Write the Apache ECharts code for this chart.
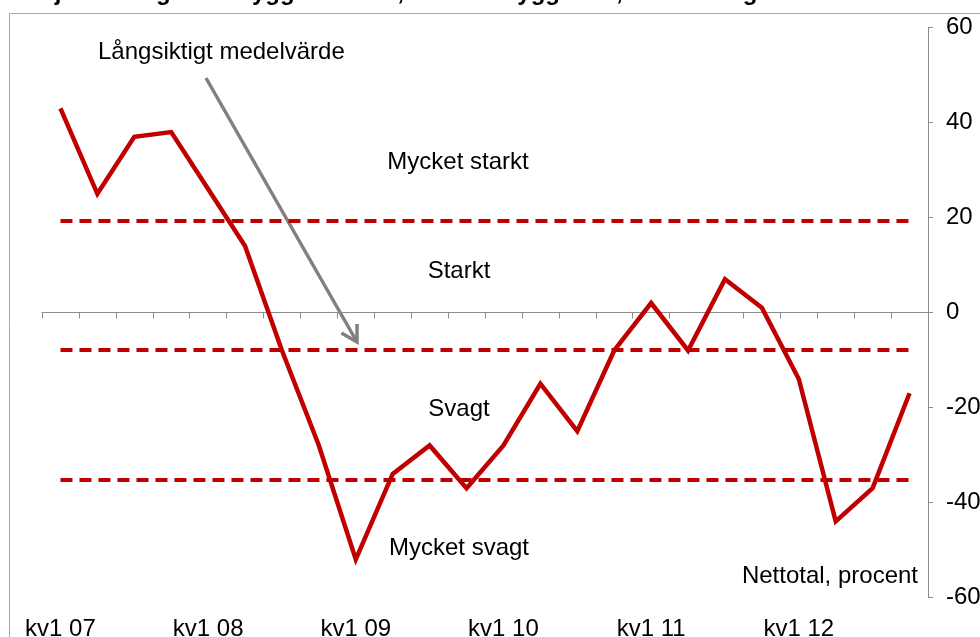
<!DOCTYPE html>
<html>
<head>
<meta charset="utf-8">
<script src="https://cdn.jsdelivr.net/npm/echarts@6/dist/echarts.min.js"></script>
<style>
html,body{margin:0;padding:0;background:#fff;}
#chart{width:980px;height:637px;}
</style>
</head>
<body>
<div id="chart"></div>
<script>
// ---- data ----
const categories = [
  'kv1 07','kv2 07','kv3 07','kv4 07',
  'kv1 08','kv2 08','kv3 08','kv4 08',
  'kv1 09','kv2 09','kv3 09','kv4 09',
  'kv1 10','kv2 10','kv3 10','kv4 10',
  'kv1 11','kv2 11','kv3 11','kv4 11',
  'kv1 12','kv2 12','kv3 12','kv4 12'
];
const nettotal = [43, 25, 37, 38, 26, 14, -8, -28, -52, -34, -28, -37,
                  -28, -15, -25, -8, 2, -8, 7, 1, -14, -44, -37, -17];
const thresholds = [19.4, -7.9, -35.2];
const yTicks = { min: -60, max: 60, interval: 20 };
const zoneLabels = ['Mycket starkt', 'Starkt', 'Svagt', 'Mycket svagt'];
const titleText = 'Konjunkturläget för byggindustrin, bostadsbyggande, nettotal läge';
const noteText = 'Långsiktigt medelvärde';
const unitText = 'Nettotal, procent';

const FONT = '"Liberation Sans", Arial, sans-serif';
const RED = '#c00000';
const FS = 24;

const chart = echarts.init(document.getElementById('chart'));

// arrow geometry (annotation)
const aStart = [206, 78], aEnd = [357, 342];
function arrowHead(s, e, len, ang) {
  const dx = s[0] - e[0], dy = s[1] - e[1];
  const d = Math.hypot(dx, dy), ux = dx / d, uy = dy / d;
  const c = Math.cos(ang), sn = Math.sin(ang);
  const a1 = [e[0] + len * (ux * c - uy * sn), e[1] + len * (ux * sn + uy * c)];
  const a2 = [e[0] + len * (ux * c + uy * sn), e[1] + len * (-ux * sn + uy * c)];
  return [a1, e, a2];
}

const zonePos = [[458, 162], [459, 271], [459, 409], [459, 548]];

const graphics = [
  { type: 'rect', z: -1, silent: true,
    shape: { x: 9.5, y: 13.5, width: 1000, height: 700 },
    style: { fill: 'none', stroke: '#a6a6a6', lineWidth: 1 } },
  { type: 'text', x: 8, y: 5, silent: true,
    style: { text: titleText, font: 'bold 24px ' + FONT, fill: '#000', align: 'left', verticalAlign: 'bottom' } },
  { type: 'text', x: 98, y: 52, silent: true,
    style: { text: noteText, font: FS + 'px ' + FONT, fill: '#000', align: 'left', verticalAlign: 'middle' } },
  { type: 'text', x: 918, y: 576, silent: true,
    style: { text: unitText, font: FS + 'px ' + FONT, fill: '#000', align: 'right', verticalAlign: 'middle' } },
  { type: 'line', silent: true,
    shape: { x1: aStart[0], y1: aStart[1], x2: aEnd[0], y2: aEnd[1] },
    style: { stroke: '#808080', lineWidth: 3.5 } },
  { type: 'polyline', silent: true,
    shape: { points: arrowHead(aStart, aEnd, 18, Math.PI / 6) },
    style: { stroke: '#808080', lineWidth: 3.5, fill: 'none' } }
];
zoneLabels.forEach((t, i) => {
  graphics.push({ type: 'text', x: zonePos[i][0], y: zonePos[i][1], silent: true,
    style: { text: t, font: FS + 'px ' + FONT, fill: '#000', align: 'center', verticalAlign: 'middle' } });
});

const option = {
  animation: false,
  backgroundColor: '#fff',
  grid: { left: 42, right: 52, top: 27.6, bottom: 39.6, containLabel: false, outerBoundsMode: 'none' },
  xAxis: [
    { type: 'category', data: categories, boundaryGap: true, position: 'bottom',
      axisLine: { show: false, onZero: false }, axisTick: { show: false },
      axisLabel: { interval: 3, fontSize: FS, fontFamily: FONT, color: '#000', margin: 20 },
      splitLine: { show: false } },
    { type: 'category', data: categories, boundaryGap: true, position: 'bottom',
      axisLine: { show: true, onZero: true, lineStyle: { color: '#8c8c8c', width: 1 } },
      axisTick: { show: true, interval: 0, length: 6, lineStyle: { color: '#8c8c8c' } },
      axisLabel: { show: false }, splitLine: { show: false } }
  ],
  yAxis: {
    type: 'value', position: 'right', min: yTicks.min, max: yTicks.max, interval: yTicks.interval,
    axisLine: { show: true, lineStyle: { color: '#8c8c8c', width: 1 } },
    axisTick: { show: true, length: 5, lineStyle: { color: '#8c8c8c' } },
    axisLabel: { fontSize: FS, fontFamily: FONT, color: '#000', margin: 18, align: 'left' },
    splitLine: { show: false }
  },
  series: [{
    type: 'line', xAxisIndex: 0, data: nettotal, symbol: 'none',
    lineStyle: { color: RED, width: 4.5, join: 'miter' }, itemStyle: { color: RED },
    z: 3,
    markLine: {
      silent: true, symbol: 'none', label: { show: false },
      lineStyle: { color: RED, width: 4, type: [12, 7] },
      data: thresholds.map(t => [{ coord: [categories[0], t] }, { coord: [categories[categories.length - 1], t] }])
    }
  }],
  graphic: graphics
};
chart.setOption(option);
</script>
</body>
</html>
